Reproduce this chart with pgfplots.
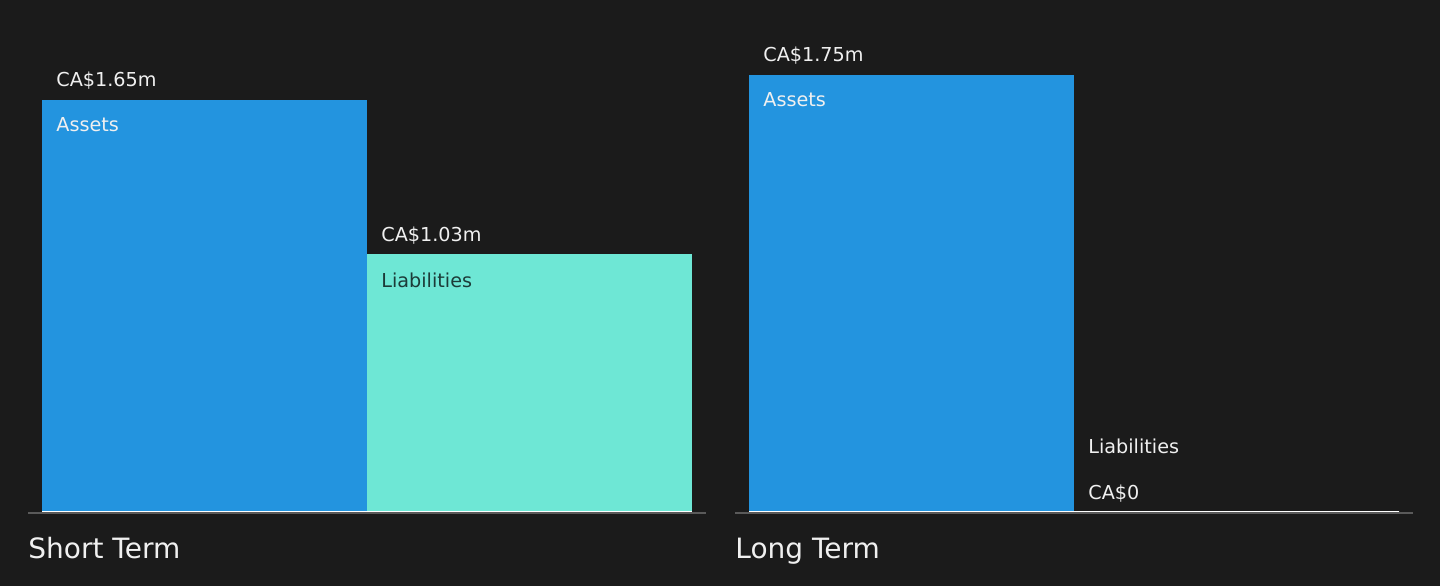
\documentclass[border=0pt]{standalone}
\usepackage{pgfplots}
\pgfplotsset{compat=1.18}
\usepackage{fontspec}
\setmainfont{DejaVu Sans}
\definecolor{bg}{HTML}{1B1B1B}
\definecolor{ablue}{HTML}{2394DF}
\definecolor{lteal}{HTML}{6EE7D5}
\definecolor{txt}{HTML}{F0F0F0}
\definecolor{dtxt}{HTML}{1C3B38}
\definecolor{base}{HTML}{5A5A5A}
\newcommand{\sm}{\fontsize{9.6}{11}\selectfont}
\begin{document}
\begin{tikzpicture}[x=1pt,y=1pt]
\fill[bg] (0,0) rectangle (720,293);
\useasboundingbox (0,0) rectangle (720,293);
\pgfplotsset{
  panel/.style={
    at={(#1,37.5pt)}, anchor=south west,
    width=339pt, height=249.2pt, scale only axis,
    xmin=-0.04308, xmax=2.04308, ymin=0, ymax=2,
    hide axis, clip=false,
  },
  bars/.style={ybar, bar width=1, bar shift=0pt, draw=none},
}
% ---------------- Short Term ----------------
\begin{axis}[panel=14pt]
\addplot[bars, fill=ablue] coordinates {(0.5,1.65)};
\addplot[bars, fill=lteal] coordinates {(1.5,1.03)};
\draw[base, line width=1pt] ([yshift=-0.75pt]rel axis cs:0,0) -- ([yshift=-0.75pt]rel axis cs:1,0);
\draw[white, line width=0.5pt] ([yshift=-0.25pt]axis cs:0,0) -- ([yshift=-0.25pt]axis cs:2,0);
\node[anchor=base west, inner sep=0, txt, xshift=7pt, yshift=6.6pt] at (axis cs:0,1.65) {\sm CA\$1.65m};
\node[anchor=base west, inner sep=0, txt, xshift=7pt, yshift=-16pt] at (axis cs:0,1.65) {\sm Assets};
\node[anchor=base west, inner sep=0, txt, xshift=7pt, yshift=6.5pt] at (axis cs:1,1.03) {\sm CA\$1.03m};
\node[anchor=base west, inner sep=0, dtxt, xshift=7pt, yshift=-16.5pt] at (axis cs:1,1.03) {\sm Liabilities};
\end{axis}
% ---------------- Long Term ----------------
\begin{axis}[panel=367.5pt]
\addplot[bars, fill=ablue] coordinates {(0.5,1.75)};
\addplot[ybar, bar width=1, bar shift=0pt, fill=lteal, draw=white, line width=0.5pt] coordinates {(1.5,0)};
\draw[base, line width=1pt] ([yshift=-0.75pt]rel axis cs:0,0) -- ([yshift=-0.75pt]rel axis cs:1,0);
\draw[white, line width=0.5pt] ([yshift=-0.25pt]axis cs:0,0) -- ([yshift=-0.25pt]axis cs:2,0);
\node[anchor=base west, inner sep=0, txt, xshift=7pt, yshift=6.6pt] at (axis cs:0,1.75) {\sm CA\$1.75m};
\node[anchor=base west, inner sep=0, txt, xshift=7pt, yshift=-16pt] at (axis cs:0,1.75) {\sm Assets};
\node[anchor=base west, inner sep=0, txt, xshift=7pt, yshift=6pt] at (axis cs:1,0) {\sm CA\$0};
\node[anchor=base west, inner sep=0, txt, xshift=7pt, yshift=28.85pt] at (axis cs:1,0) {\sm Liabilities};
\end{axis}
\node[anchor=base west, inner sep=0, txt] at (14,13.85) {\fontsize{14}{17}\selectfont Short Term};
\node[anchor=base west, inner sep=0, txt] at (367.5,13.85) {\fontsize{14}{17}\selectfont Long Term};
\end{tikzpicture}
\end{document}
